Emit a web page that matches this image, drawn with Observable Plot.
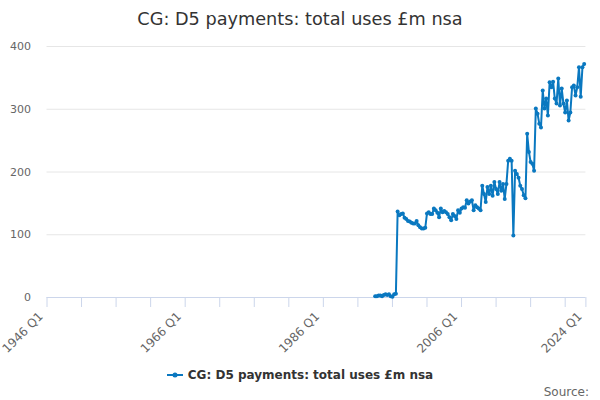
<!DOCTYPE html>
<html>
<head>
<meta charset="utf-8">
<script src="https://cdn.jsdelivr.net/npm/d3@7"></script>
<script src="https://cdn.jsdelivr.net/npm/@observablehq/plot@0.6"></script>
<style>
  html, body { margin: 0; padding: 0; background: #fff; }
  body { width: 600px; height: 400px; overflow: hidden; font-family: "DejaVu Sans", sans-serif; }
  #title { height: 36px; line-height: 38px; text-align: center; font-size: 17.7px; color: #333333; white-space: nowrap; }
  #legend { height: 18px; display: flex; justify-content: center; align-items: center; font-size: 12px; font-weight: bold; color: #333333; margin-top: 0px; }
  #legend svg { margin-right: 5px; }
  #source { height: 18px; text-align: right; padding-right: 11px; font-size: 12px; color: #666666; line-height: 16px; }
</style>
</head>
<body>
<div id="title">CG: D5 payments: total uses £m nsa</div>
<div id="chart"></div>
<div id="legend"><svg width="16" height="10"><line x1="0" y1="5" x2="16" y2="5" stroke="#0a78c0" stroke-width="2"/><circle cx="8" cy="5" r="2.5" fill="#0a78c0"/></svg><span>CG: D5 payments: total uses £m nsa</span></div>
<div id="source">Source:</div>
<script>
// Quarterly series, first value is 1993 Q3
const startYear = 1993;
const startQuarter = 3;
const values = [
  2, 2,
  3, 3, 2, 4,
  5, 4, 5, 2,
  1, 5, 6, 137,
  131, 133, 134, 127,
  125, 122, 121, 119,
  118, 118, 122, 115,
  112, 110, 110, 111,
  134, 136, 133, 133,
  142, 139, 135, 128,
  142, 136, 138, 136,
  133, 128, 123, 133,
  130, 125, 139, 135,
  142, 144, 143, 155,
  150, 153, 155, 139,
  147, 144, 142, 139,
  178, 165, 152, 176,
  165, 178, 162, 184,
  173, 165, 184, 170,
  181, 157, 181, 218,
  221, 218, 99, 202,
  197, 191, 178, 173,
  163, 158, 261, 232,
  216, 213, 202, 301,
  293, 277, 271, 330,
  301, 317, 290, 343,
  335, 344, 317, 309,
  349, 306, 333, 309,
  295, 314, 282, 295,
  335, 338, 322, 335,
  367, 320, 367, 372
];
const firstYear = 1946;
const lastYear = 2024;
const gridTicks = [0, 100, 200, 300, 400];
const labelYears = [1946, 1966, 1986, 2006, 2024];
const minorStepYears = 5;
const seriesName = "CG: D5 payments: total uses £m nsa";

// quarter index from 1946 Q1
const qIndex = (y, q) => (y - firstYear) * 4 + (q - 1);
const data = values.map((v, i) => {
  const idx = qIndex(startYear, startQuarter) + i;
  return { q: idx, value: v };
});
const lastIdx = qIndex(lastYear, 1);
const minorTicks = d3.range(0, lastIdx + 1, minorStepYears * 4).concat([lastIdx]);
const labelTicks = labelYears.map(y => qIndex(y, 1));
const qLabel = i => `${firstYear + Math.floor(i / 4)} Q${(i % 4) + 1}`;

const color = "#0a78c0";
const chart = Plot.plot({
  width: 600,
  height: 330,
  marginLeft: 46.5,
  marginRight: 14.6,
  marginTop: 10,
  marginBottom: 69,
  style: { fontFamily: "DejaVu Sans, sans-serif", background: "white", overflow: "visible" },
  x: { domain: [0, lastIdx] },
  y: { domain: [0, 400] },
  marks: [
    Plot.gridY(gridTicks.filter(t => t > 0), { stroke: "#e6e6e6", strokeOpacity: 1 }),
    Plot.axisY(gridTicks, { tickSize: 0, tickPadding: 16, fontSize: 11, fill: "#666666", label: null }),
    Plot.ruleY([0], { stroke: "#ccd6eb", strokeWidth: 1 }),
    Plot.axisX(minorTicks, { tickSize: 10, stroke: "#ccd6eb", tickFormat: () => "", label: null }),
    Plot.axisX(labelTicks, { tickSize: 0, tickRotate: -45, tickPadding: 14, tickFormat: qLabel, fontSize: 12, fill: "#666666", label: null, dx: -6, dy: 3 }),
    Plot.line(data, { x: "q", y: "value", stroke: color, strokeWidth: 2 }),
    Plot.dot(data, { x: "q", y: "value", fill: color, r: 2 })
  ]
});
document.getElementById("chart").appendChild(chart);
</script>
</body>
</html>
